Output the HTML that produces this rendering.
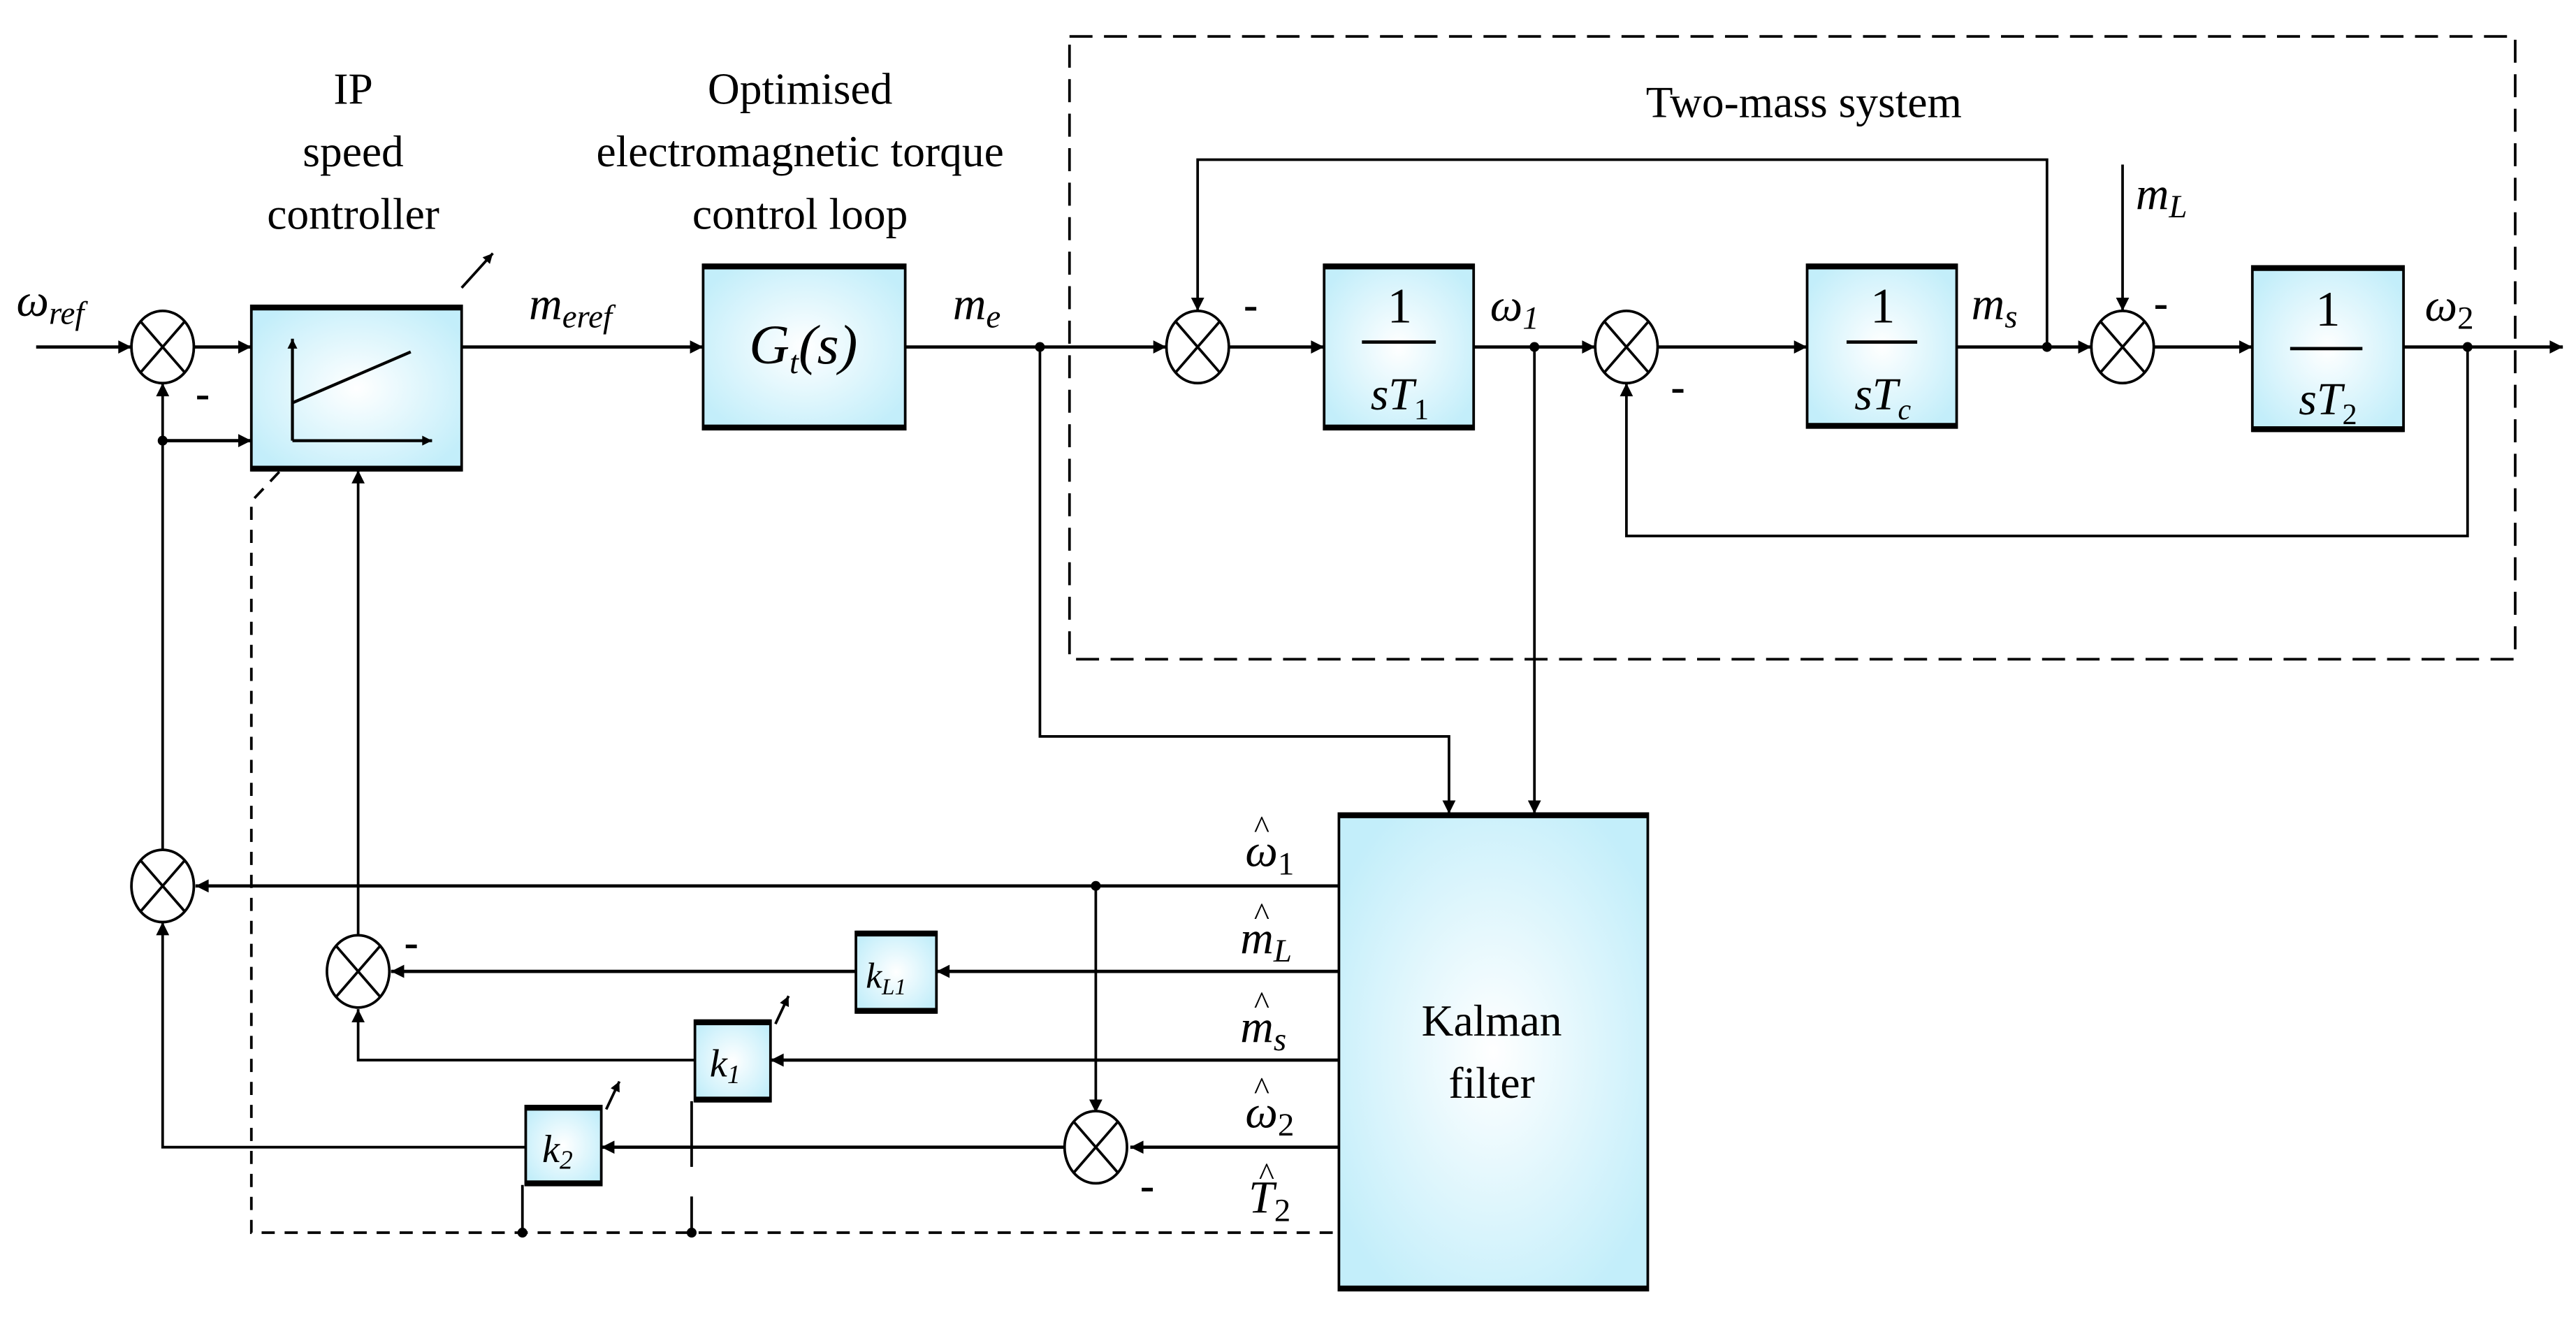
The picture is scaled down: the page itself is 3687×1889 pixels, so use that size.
<!DOCTYPE html>
<html><head><meta charset="utf-8"><style>
html,body{margin:0;padding:0;background:#fff;}
svg{display:block;}
text{font-family:"Liberation Serif",serif;fill:#000;}
.it{font-style:italic;}
</style></head><body>
<svg width="3687" height="1889" viewBox="0 0 1568 803" xmlns="http://www.w3.org/2000/svg">
<defs>
<radialGradient id="g" cx="50%" cy="50%" r="60%">
<stop offset="0" stop-color="#ffffff"/><stop offset="1" stop-color="#c3eefa"/>
</radialGradient>
<marker id="a" viewBox="0 0 10 10" refX="10" refY="5" markerWidth="10" markerHeight="8" markerUnits="userSpaceOnUse" orient="auto">
<path d="M0,0 L10,5 L0,10 z" fill="#000"/></marker>
<marker id="s" viewBox="0 0 10 10" refX="10" refY="5" markerWidth="8" markerHeight="6" markerUnits="userSpaceOnUse" orient="auto">
<path d="M0,0 L10,5 L0,10 z" fill="#000"/></marker>
</defs>
<g fill="none" stroke="#000" stroke-width="1.6">
<rect x="651" y="22" width="880" height="379" stroke-dasharray="14,7" stroke-width="1.6"/>
<line x1="22" y1="211" x2="80" y2="211" marker-end="url(#a)" stroke-width="2"/>
<line x1="118" y1="211" x2="153" y2="211" marker-end="url(#a)" stroke-width="2"/>
<line x1="281" y1="211" x2="428" y2="211" marker-end="url(#a)" stroke-width="2"/>
<line x1="551" y1="211" x2="710" y2="211" marker-end="url(#a)" stroke-width="2"/>
<line x1="748" y1="211" x2="806" y2="211" marker-end="url(#a)" stroke-width="2"/>
<line x1="897" y1="211" x2="971" y2="211" marker-end="url(#a)" stroke-width="2"/>
<line x1="1009" y1="211" x2="1100" y2="211" marker-end="url(#a)" stroke-width="2"/>
<line x1="1191" y1="211" x2="1273" y2="211" marker-end="url(#a)" stroke-width="2"/>
<line x1="1311" y1="211" x2="1371" y2="211" marker-end="url(#a)" stroke-width="2"/>
<line x1="1463" y1="211" x2="1560" y2="211" marker-end="url(#a)" stroke-width="2"/>
<polyline points="1246,211 1246,97 729,97 729,189" marker-end="url(#a)"/>
<polyline points="1502,211 1502,326 990,326 990,233" marker-end="url(#a)"/>
<line x1="1292" y1="100" x2="1292" y2="189" marker-end="url(#a)"/>
<polyline points="633,211 633,448 882,448 882,495" marker-end="url(#a)"/>
<line x1="934" y1="211" x2="934" y2="495" marker-end="url(#a)"/>
<line x1="815" y1="539" x2="119" y2="539" marker-end="url(#a)" stroke-width="2"/>
<line x1="667" y1="539" x2="667" y2="677" marker-end="url(#a)"/>
<line x1="815" y1="591" x2="570" y2="591" marker-end="url(#a)" stroke-width="2"/>
<line x1="521" y1="591" x2="238" y2="591" marker-end="url(#a)" stroke-width="2"/>
<line x1="815" y1="645" x2="469" y2="645" marker-end="url(#a)" stroke-width="2"/>
<polyline points="423,645 218,645 218,614" marker-end="url(#a)"/>
<line x1="815" y1="698" x2="688" y2="698" marker-end="url(#a)" stroke-width="2"/>
<line x1="648" y1="698" x2="366" y2="698" marker-end="url(#a)" stroke-width="2"/>
<polyline points="320,698 99,698 99,561" marker-end="url(#a)"/>
<line x1="99" y1="517" x2="99" y2="233" marker-end="url(#a)"/>
<line x1="99" y1="268" x2="153" y2="268" marker-end="url(#a)" stroke-width="2"/>
<line x1="218" y1="569" x2="218" y2="286" marker-end="url(#a)"/>
<polyline points="170,287 153,305 153,750 815,750" stroke-dasharray="8,6"/>
<line x1="318" y1="721" x2="318" y2="750"/>
<line x1="421" y1="670" x2="421" y2="750" stroke-dasharray="40,18"/>
<line x1="281" y1="175" x2="300" y2="154" marker-end="url(#s)"/>
<line x1="369" y1="675" x2="377" y2="658" marker-end="url(#s)"/>
<line x1="472" y1="623" x2="480" y2="606" marker-end="url(#s)"/>
</g>
<g fill="#000">
<circle cx="633" cy="211" r="3"/><circle cx="934" cy="211" r="3"/><circle cx="1246" cy="211" r="3"/><circle cx="1502" cy="211" r="3"/>
<circle cx="99" cy="268" r="3"/><circle cx="667" cy="539" r="3"/><circle cx="318" cy="750" r="3"/><circle cx="421" cy="750" r="3"/>
</g>
<g fill="#fff" stroke="#000" stroke-width="1.6">
<g transform="translate(99,211)"><ellipse rx="19" ry="22"/><path d="M-13,-15 L13,15 M13,-15 L-13,15" fill="none"/></g>
<g transform="translate(729,211)"><ellipse rx="19" ry="22"/><path d="M-13,-15 L13,15 M13,-15 L-13,15" fill="none"/></g>
<g transform="translate(990,211)"><ellipse rx="19" ry="22"/><path d="M-13,-15 L13,15 M13,-15 L-13,15" fill="none"/></g>
<g transform="translate(1292,211)"><ellipse rx="19" ry="22"/><path d="M-13,-15 L13,15 M13,-15 L-13,15" fill="none"/></g>
<g transform="translate(99,539)"><ellipse rx="19" ry="22"/><path d="M-13,-15 L13,15 M13,-15 L-13,15" fill="none"/></g>
<g transform="translate(218,591)"><ellipse rx="19" ry="22"/><path d="M-13,-15 L13,15 M13,-15 L-13,15" fill="none"/></g>
<g transform="translate(667,698)"><ellipse rx="19" ry="22"/><path d="M-13,-15 L13,15 M13,-15 L-13,15" fill="none"/></g>
</g>
<g fill="url(#g)" stroke="#000" stroke-width="1.6">
<rect x="153" y="186" width="128" height="100"/>
<rect x="428" y="161" width="123" height="100"/>
<rect x="806" y="161" width="91" height="100"/>
<rect x="1100" y="161" width="91" height="99"/>
<rect x="1371" y="162" width="92" height="100"/>
<rect x="815" y="495" width="188" height="290"/>
<rect x="521" y="567" width="49" height="49"/>
<rect x="423" y="621" width="46" height="49"/>
<rect x="320" y="673" width="46" height="48"/>
</g>
<g stroke="#000" stroke-width="3.5">
<line x1="153" y1="187" x2="281" y2="187"/><line x1="153" y1="285" x2="281" y2="285"/>
<line x1="428" y1="162" x2="551" y2="162"/><line x1="428" y1="260" x2="551" y2="260"/>
<line x1="806" y1="162" x2="897" y2="162"/><line x1="806" y1="260" x2="897" y2="260"/>
<line x1="1100" y1="162" x2="1191" y2="162"/><line x1="1100" y1="259" x2="1191" y2="259"/>
<line x1="1371" y1="163" x2="1463" y2="163"/><line x1="1371" y1="261" x2="1463" y2="261"/>
<line x1="815" y1="496" x2="1003" y2="496"/><line x1="815" y1="784" x2="1003" y2="784"/>
<line x1="521" y1="568" x2="570" y2="568"/><line x1="521" y1="615" x2="570" y2="615"/>
<line x1="423" y1="622" x2="469" y2="622"/><line x1="423" y1="669" x2="469" y2="669"/>
<line x1="320" y1="674" x2="366" y2="674"/><line x1="320" y1="720" x2="366" y2="720"/>
</g>
<g stroke="#000" stroke-width="1.8" fill="none">
<line x1="178" y1="268" x2="178" y2="206" marker-end="url(#s)"/>
<line x1="178" y1="268" x2="263" y2="268" marker-end="url(#s)"/>
<line x1="178" y1="245" x2="250" y2="214"/>
</g>
<g stroke="#000" stroke-width="2">
<line x1="829" y1="208" x2="874" y2="208"/>
<line x1="1124" y1="208" x2="1167" y2="208"/>
<line x1="1394" y1="212" x2="1438" y2="212"/>
</g>
<g font-size="27" text-anchor="middle">
<text x="215" y="63">IP</text>
<text x="215" y="101">speed</text>
<text x="215" y="139">controller</text>
<text x="487" y="63">Optimised</text>
<text x="487" y="101">electromagnetic torque</text>
<text x="487" y="139">control loop</text>
<text x="1098" y="71">Two-mass system</text>
<text x="908" y="630">Kalman</text>
<text x="908" y="668">filter</text>
<text x="852" y="196" font-size="30">1</text><text x="1146" y="196" font-size="30">1</text><text x="1417" y="198" font-size="30">1</text>
</g>
<g font-size="28" class="it">
<text x="852" y="249" text-anchor="middle" class="it">sT<tspan font-size="18" font-style="normal" dy="6">1</tspan></text>
<text x="1146" y="249" text-anchor="middle" class="it">sT<tspan font-size="18" dy="6">c</tspan></text>
<text x="1417" y="252" text-anchor="middle" class="it">sT<tspan font-size="18" font-style="normal" dy="6">2</tspan></text>
<text x="489" y="221" text-anchor="middle" font-size="34" class="it">G<tspan font-size="20" dy="6">t</tspan><tspan dy="-6">(s)</tspan></text>
<text x="10" y="192" class="it">ω<tspan font-size="20" dy="5">ref</tspan></text>
<text x="322" y="194" class="it">m<tspan font-size="20" dy="5">eref</tspan></text>
<text x="580" y="194" class="it">m<tspan font-size="20" dy="5">e</tspan></text>
<text x="907" y="195" class="it">ω<tspan font-size="20" dy="5">1</tspan></text>
<text x="1200" y="194" class="it">m<tspan font-size="20" dy="5">s</tspan></text>
<text x="1476" y="195" class="it">ω<tspan font-size="20" font-style="normal" dy="5">2</tspan></text>
<text x="1300" y="127" class="it">m<tspan font-size="20" dy="5">L</tspan></text>
<text x="527" y="601" font-size="22" class="it">k<tspan font-size="14" dy="4">L1</tspan></text>
<text x="432" y="655" font-size="24" class="it">k<tspan font-size="16" dy="4">1</tspan></text>
<text x="330" y="707" font-size="24" class="it">k<tspan font-size="16" dy="4">2</tspan></text>
<text x="758" y="527" class="it">ω<tspan font-size="20" font-style="normal" dy="5">1</tspan></text>
<text x="755" y="580" class="it">m<tspan font-size="20" dy="5">L</tspan></text>
<text x="755" y="634" class="it">m<tspan font-size="20" dy="5">s</tspan></text>
<text x="758" y="686" class="it">ω<tspan font-size="20" font-style="normal" dy="5">2</tspan></text>
<text x="760" y="738" class="it">T<tspan font-size="20" font-style="normal" dy="5">2</tspan></text>
</g>
<g font-size="20" text-anchor="middle">
<text x="768" y="510">^</text><text x="768" y="563">^</text><text x="768" y="617">^</text>
<text x="768" y="669">^</text><text x="771" y="721">^</text>
</g>
<g font-size="26" font-weight="bold">
<text x="119" y="248">-</text><text x="757" y="194">-</text><text x="1017" y="244">-</text>
<text x="1311" y="193">-</text><text x="246" y="582">-</text><text x="694" y="730">-</text>
</g>
</svg>
</body></html>
